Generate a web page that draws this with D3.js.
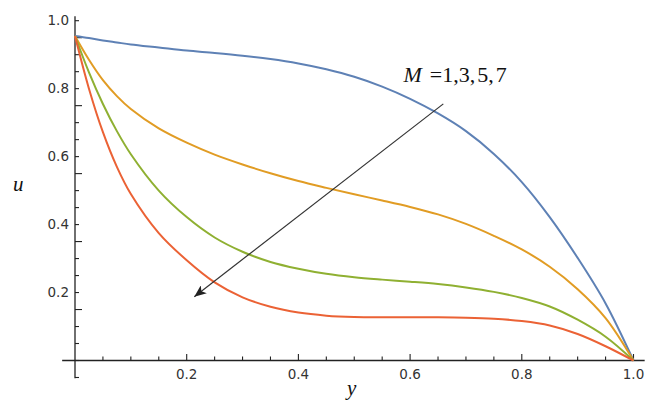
<!DOCTYPE html>
<html>
<head>
<meta charset="utf-8">
<script src="https://cdn.jsdelivr.net/npm/d3@7"></script>
<style>
  html, body { margin: 0; padding: 0; background: #fff; }
  svg { display: block; }
</style>
</head>
<body>
<svg id="chart" width="655" height="408"></svg>
<script>
// ---- data ----
const yGrid = [0, 0.025, 0.05, 0.075, 0.1, 0.15, 0.2, 0.25, 0.3, 0.35, 0.4, 0.45, 0.5, 0.55, 0.6, 0.65, 0.7, 0.75, 0.8, 0.85, 0.9, 0.95, 1.0];
const seriesNames = ["M=1", "M=3", "M=5", "M=7"];
const uM1 = [0.955, 0.949, 0.942, 0.936, 0.930, 0.921, 0.912, 0.905, 0.897, 0.887, 0.874, 0.857, 0.835, 0.806, 0.770, 0.727, 0.675, 0.608, 0.525, 0.422, 0.302, 0.168, 0];
const uM3 = [0.955, 0.885, 0.825, 0.778, 0.740, 0.683, 0.641, 0.606, 0.577, 0.551, 0.528, 0.508, 0.489, 0.471, 0.452, 0.430, 0.402, 0.367, 0.327, 0.276, 0.210, 0.125, 0];
const uM5 = [0.955, 0.848, 0.755, 0.675, 0.607, 0.500, 0.422, 0.362, 0.320, 0.290, 0.270, 0.255, 0.245, 0.238, 0.232, 0.225, 0.215, 0.202, 0.184, 0.159, 0.120, 0.070, 0];
const uM7 = [0.955, 0.800, 0.672, 0.570, 0.490, 0.375, 0.295, 0.230, 0.186, 0.158, 0.141, 0.132, 0.128, 0.127, 0.127, 0.127, 0.126, 0.123, 0.116, 0.103, 0.078, 0.042, 0];
const seriesColors = ["#5E81B5", "#E19C24", "#8FB032", "#EB6235"];
const xTickLabels = ["0.2", "0.4", "0.6", "0.8", "1.0"];
const yTickLabels = ["0.2", "0.4", "0.6", "0.8", "1.0"];
const annotationText = ["M", "=1,3,", "5,", "7"];
const arrowFrom = [0.6595, 0.7552];
const arrowTo = [0.2136, 0.1878];
const annotationAt = [0.588, 0.820];

// ---- layout ----
const svg = d3.select("#chart");
const x = d3.scaleLinear().domain([0, 1]).range([75, 633.5]);
const y = d3.scaleLinear().domain([0, 1]).range([360.5, 20.7]);

const axisColor = "#222";
const labelColor = "#333";

// x axis line
svg.append("line")
  .attr("x1", x(-0.023)).attr("x2", x(1.02))
  .attr("y1", y(0)).attr("y2", y(0))
  .attr("stroke", axisColor).attr("stroke-width", 1.3);
// y axis line
svg.append("line")
  .attr("x1", x(0)).attr("x2", x(0))
  .attr("y1", y(-0.052)).attr("y2", y(1.013))
  .attr("stroke", axisColor).attr("stroke-width", 1.3);

// x ticks
const xMinor = d3.range(1, 21).map(i => i * 0.05);
svg.append("g").selectAll("line").data(xMinor).join("line")
  .attr("x1", d => x(d)).attr("x2", d => x(d))
  .attr("y1", y(0))
  .attr("y2", (d, i) => y(0) - ((i + 1) % 4 === 0 ? 6.5 : 4))
  .attr("stroke", axisColor).attr("stroke-width", 1.1);

// y ticks
const yMinor = d3.range(-1, 21).map(i => i * 0.05);
svg.append("g").selectAll("line").data(yMinor).join("line")
  .attr("y1", d => y(d)).attr("y2", d => y(d))
  .attr("x1", x(0))
  .attr("x2", (d, i) => x(0) + ((i) % 4 === 0 && i > 0 ? 7 : 4))
  .attr("stroke", axisColor).attr("stroke-width", 1.1);

// x tick labels
svg.append("g").selectAll("text").data(xTickLabels).join("text")
  .attr("x", d => x(+d))
  .attr("y", y(0) + 18)
  .attr("text-anchor", "middle")
  .attr("font-family", "DejaVu Sans, sans-serif")
  .attr("font-size", 13.5)
  .attr("fill", labelColor)
  .text(d => d);

// y tick labels
svg.append("g").selectAll("text").data(yTickLabels).join("text")
  .attr("x", x(0) - 6)
  .attr("y", d => y(+d))
  .attr("dy", "0.35em")
  .attr("text-anchor", "end")
  .attr("font-family", "DejaVu Sans, sans-serif")
  .attr("font-size", 13.5)
  .attr("fill", labelColor)
  .text(d => d);

// axis titles
svg.append("text")
  .attr("x", 13).attr("y", 191)
  .attr("font-family", "Liberation Serif, Times New Roman, serif")
  .attr("font-style", "italic")
  .attr("font-size", 21)
  .attr("fill", "#111")
  .text("u");
svg.append("text")
  .attr("x", 347).attr("y", 395)
  .attr("font-family", "Liberation Serif, Times New Roman, serif")
  .attr("font-style", "italic")
  .attr("font-size", 21)
  .attr("fill", "#111")
  .text("y");

// curves
const allSeries = [uM1, uM3, uM5, uM7];
const line = d3.line()
  .x((d, i) => x(yGrid[i]))
  .y(d => y(d))
  .curve(d3.curveCatmullRom.alpha(0.5));

svg.append("g").selectAll("path").data(allSeries).join("path")
  .attr("d", d => line(d))
  .attr("fill", "none")
  .attr("stroke", (d, i) => seriesColors[i])
  .attr("stroke-width", 2)
  .attr("stroke-linejoin", "round");

// arrow
svg.append("defs").append("marker")
  .attr("id", "ah")
  .attr("viewBox", "0 0 12 10")
  .attr("refX", 12).attr("refY", 5)
  .attr("markerWidth", 12).attr("markerHeight", 10)
  .attr("markerUnits", "userSpaceOnUse")
  .attr("orient", "auto")
  .append("path")
  .attr("d", "M0,0 L12,5 L0,10 L3,5 Z")
  .attr("fill", "#222");

svg.append("line")
  .attr("x1", x(arrowFrom[0])).attr("y1", y(arrowFrom[1]))
  .attr("x2", x(arrowTo[0])).attr("y2", y(arrowTo[1]))
  .attr("stroke", "#333").attr("stroke-width", 1.2)
  .attr("marker-end", "url(#ah)");

// annotation
const ann = svg.append("text")
  .attr("x", x(annotationAt[0])).attr("y", y(annotationAt[1]))
  .attr("font-family", "Liberation Serif, Times New Roman, serif")
  .attr("font-size", 22)
  .attr("fill", "#111");
ann.append("tspan").attr("font-style", "italic").text(annotationText[0]);
ann.append("tspan").attr("dx", 8).text(annotationText[1]);
ann.append("tspan").attr("dx", 2).text(annotationText[2]);
ann.append("tspan").attr("dx", 2).text(annotationText[3]);
</script>
</body>
</html>
